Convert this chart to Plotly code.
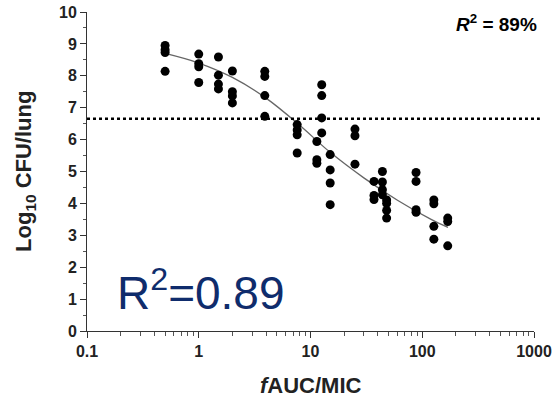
import plotly.graph_objects as go

# Observed data (fAUC/MIC, log10 CFU/lung)
auc_mic = [0.5, 0.5, 0.5, 0.5,
           1, 1, 1, 1,
           1.5, 1.5, 1.5, 1.5,
           2, 2, 2, 2,
           3.9, 3.9, 3.9, 3.9,
           7.6, 7.6, 7.6, 7.6,
           11.4, 11.4, 11.4,
           12.6, 12.6, 12.6, 12.6,
           15, 15, 15, 15,
           25, 25, 25,
           37, 37, 37,
           44, 44, 44, 44,
           48, 48, 48, 48,
           88, 88, 88, 88,
           127, 127, 127, 127,
           169, 169, 169]
log_cfu = [8.95, 8.82, 8.73, 8.14,
           8.68, 8.38, 8.28, 7.79,
           8.59, 8.02, 7.74, 7.59,
           8.15, 7.5, 7.37, 7.15,
           8.14, 7.98, 7.38, 6.73,
           6.47, 6.3, 6.15, 5.58,
           5.94, 5.37, 5.26,
           7.72, 7.38, 6.68, 6.21,
           5.53, 5.05, 4.64, 3.96,
           6.33, 6.12, 5.23,
           4.69, 4.25, 4.12,
           5.0, 4.67, 4.43, 4.27,
           4.11, 4.0, 3.78, 3.54,
           4.97, 4.69, 3.8, 3.72,
           4.11, 3.99, 3.28, 2.88,
           3.54, 3.43, 2.67]

# Fitted curve
fit_x = [0.5, 1, 2, 4, 8, 15, 30, 60, 120, 170]
fit_y = [8.7, 8.4, 7.95, 7.3, 6.45, 5.6, 4.8, 4.1, 3.5, 3.25]

stasis_level = 6.65

x_tick_vals = [0.1, 1, 10, 100, 1000]
x_tick_text = ["0.1", "1", "10", "100", "1000"]

FONT = "Liberation Sans"

fig = go.Figure()
fig.add_trace(go.Scatter(x=fit_x, y=fit_y, mode="lines",
                         line=dict(color="#666666", width=1.3, shape="spline"),
                         showlegend=False, hoverinfo="skip"))
fig.add_trace(go.Scatter(x=auc_mic, y=log_cfu, mode="markers",
                         marker=dict(color="black", size=9),
                         showlegend=False))

fig.add_shape(type="line", xref="paper", yref="y", x0=0, x1=1.013,
              y0=stasis_level, y1=stasis_level,
              line=dict(color="black", width=2.5, dash="dot"))

# Big R^2 label
fig.add_annotation(xref="paper", yref="paper", x=0.062, y=0.13,
                   xanchor="left", yanchor="middle", showarrow=False,
                   text="R<sup>2</sup>=0.89",
                   font=dict(family=FONT, size=46, color="#0f2c6c"))
# Top-right R^2
fig.add_annotation(xref="paper", yref="paper", x=1.012, y=1.01,
                   xanchor="right", yanchor="top", showarrow=False,
                   text="<b><i>R</i><sup>2</sup> = 89%</b>",
                   font=dict(family=FONT, size=19, color="black"))

# Axis titles
fig.add_annotation(xref="paper", yref="paper", x=0.5, y=-0.17,
                   xanchor="center", yanchor="middle", showarrow=False,
                   text="<b><i>f</i>AUC/MIC</b>",
                   font=dict(family=FONT, size=22, color="#222222"))
fig.add_annotation(xref="paper", yref="paper", x=-0.14, y=0.5,
                   xanchor="center", yanchor="middle", showarrow=False,
                   textangle=-90,
                   text="<b>Log<sub>10</sub> CFU/lung</b>",
                   font=dict(family=FONT, size=22, color="#222222"))

axis_font = dict(family=FONT, size=16, color="#222222", weight="bold")

fig.update_xaxes(type="log", range=[-1, 3], automargin=False,
                 tickvals=x_tick_vals, ticktext=x_tick_text,
                 ticks="outside", ticklen=6, tickwidth=1, tickcolor="#333333",
                 minor=dict(ticks="outside", ticklen=4, tickcolor="#555555",
                            dtick="D1", showgrid=False),
                 showline=True, linecolor="#333333", linewidth=1,
                 showgrid=False, zeroline=False,
                 tickfont=axis_font)
fig.update_yaxes(range=[0, 10], dtick=1, automargin=False,
                 ticks="outside", ticklen=6, tickwidth=1, tickcolor="#333333",
                 minor=dict(ticks="outside", ticklen=3, dtick=0.5,
                            tickcolor="#555555", showgrid=False),
                 showline=True, linecolor="#333333", linewidth=1,
                 showgrid=False, zeroline=False,
                 tickfont=axis_font)

fig.update_layout(width=554, height=406,
                  margin=dict(l=87, r=20, t=12, b=75),
                  plot_bgcolor="white", paper_bgcolor="white")

fig.write_html("out.html")
